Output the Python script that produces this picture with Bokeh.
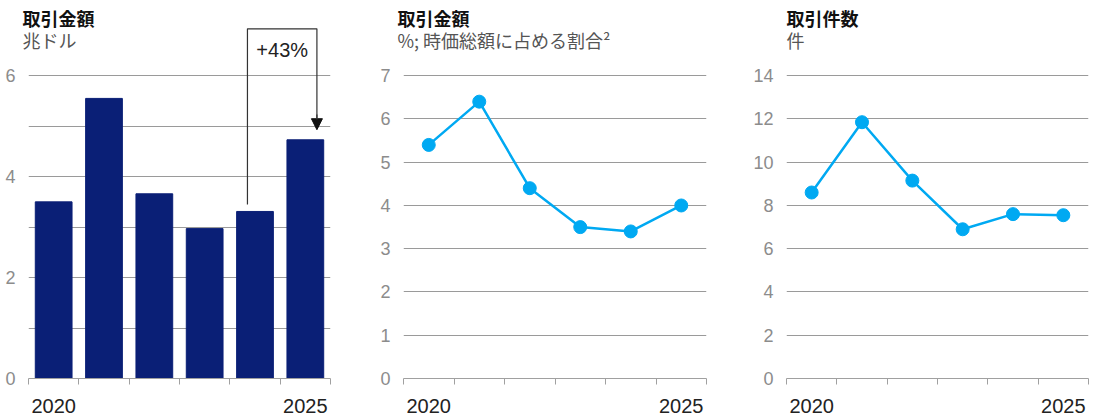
from bokeh.plotting import figure
from bokeh.layouts import row
from bokeh.models import FixedTicker, Arrow, NormalHead, Range1d
from bokeh.core.properties import value
from bokeh.embed import file_html
from bokeh.resources import INLINE

years = ["2020", "2021", "2022", "2023", "2024", "2025"]
deal_value = [3.5, 5.55, 3.66, 2.97, 3.31, 4.73]          # 兆ドル
deal_share = [5.4, 6.4, 4.4, 3.5, 3.4, 4.0]               # % of market cap
deal_count = [8.6, 11.85, 9.15, 6.9, 7.6, 7.55]           # 件
change_label = "+43%"

titles = ["取引金額", "取引金額", "取引件数"]
subtitles = ["兆ドル", "%; 時価総額に占める割合²", "件"]

JP = "Noto Sans CJK JP"
NUM = "Liberation Sans"
BAR = "#0A1F76"
LINE = "#00A9F2"
GRID = "#9a9a9a"

xc = [i + 0.5 for i in range(len(years))]


def make_fig(width, left, right, ymax, yticks, ylabels, title, subtitle, title_dx=-6):
    p = figure(width=width, height=417, output_backend="svg", toolbar_location=None,
               x_range=Range1d(0, len(years)), y_range=Range1d(0, ymax * 1.004),
               min_border_left=left, min_border_right=right,
               min_border_top=74, min_border_bottom=39)
    p.outline_line_color = None
    p.background_fill_color = None
    p.border_fill_color = None
    p.xgrid.grid_line_color = None
    p.ygrid.grid_line_color = GRID
    p.ygrid.grid_line_width = 1
    yt = FixedTicker(ticks=yticks)
    p.yaxis.ticker = yt
    p.ygrid.ticker = yt
    p.yaxis.major_label_overrides = {t: l for t, l in zip(yticks, ylabels)}
    p.yaxis.axis_line_color = None
    p.yaxis.major_tick_line_color = None
    p.yaxis.minor_tick_line_color = None
    p.yaxis.major_label_standoff = 7
    p.yaxis.major_label_text_font = NUM
    p.yaxis.major_label_text_font_size = "18px"
    p.yaxis.major_label_text_color = "#8c8c8c"

    xt = FixedTicker(ticks=xc, minor_ticks=list(range(len(years) + 1)))
    p.xaxis.ticker = xt
    p.xaxis.major_label_overrides = {c: (y if y in ("2020", "2025") else "") for c, y in zip(xc, years)}
    p.xaxis.axis_line_color = "#a0a0a0"
    p.xaxis.major_tick_line_color = None
    p.xaxis.major_tick_out = 0
    p.xaxis.major_tick_in = 0
    p.xaxis.minor_tick_line_color = "#a0a0a0"
    p.xaxis.minor_tick_out = 6
    p.xaxis.minor_tick_in = 0
    p.xaxis.major_label_standoff = 14
    p.xaxis.major_label_text_font = NUM
    p.xaxis.major_label_text_font_size = "20px"
    p.xaxis.major_label_text_color = "#222222"

    ytop = ymax * 1.004
    p.text(x=[0], y=[ytop], text=[title], x_offset=title_dx, y_offset=-70,
           text_font=value(JP), text_font_style="bold", text_font_size="18px",
           text_color="#111111", text_baseline="top", level="overlay")
    p.text(x=[0], y=[ytop], text=[subtitle], x_offset=title_dx, y_offset=-48,
           text_font=value(JP), text_font_size="18px",
           text_color="#555555", text_baseline="top", level="overlay")
    return p


p1 = make_fig(366, 28, 36, 6, list(range(0, 7)), ["0", "", "2", "", "4", "", "6"], titles[0], subtitles[0])
p1.vbar(x=xc, top=deal_value, width=0.73, color=BAR)

# +43% annotation
i5, i6 = 4, 5
x_left = xc[i5] - 0.15
x_right = xc[i6] + 0.23
y_from = deal_value[i5] + 0.14
y_top = 6.93
y_tip = deal_value[i6] + 0.2
p1.line(x=[x_left, x_left, x_right, x_right], y=[y_from, y_top, y_top, y_tip + 0.2],
        line_color="#333333", line_width=1.2, level="overlay")
p1.add_layout(Arrow(end=NormalHead(size=11, fill_color="#111111", line_color="#111111"),
                    x_start=x_right, y_start=y_tip + 0.3, x_end=x_right, y_end=y_tip,
                    line_color="#333333", line_width=1.2))
p1.text(x=[(x_left + x_right) / 2], y=[6.5], text=[change_label], text_font=value(NUM),
        text_font_size="20px", text_color="#222222",
        text_align="center", text_baseline="middle", level="overlay")

p2 = make_fig(366, 37, 26, 7, list(range(0, 8)), [str(v) for v in range(0, 8)], titles[1], subtitles[1])
p2.line(x=xc, y=deal_share, line_color=LINE, line_width=2.5)
p2.scatter(x=xc, y=deal_share, size=13, fill_color=LINE, line_color=LINE)

p3 = make_fig(367, 54, 11, 14, list(range(0, 15, 2)), [str(v) for v in range(0, 15, 2)], titles[2], subtitles[2], title_dx=0)
p3.line(x=xc, y=deal_count, line_color=LINE, line_width=2.5)
p3.scatter(x=xc, y=deal_count, size=13, fill_color=LINE, line_color=LINE)

layout = row(p1, p2, p3, spacing=0)
open("out.html", "w").write(file_html(layout, INLINE))
